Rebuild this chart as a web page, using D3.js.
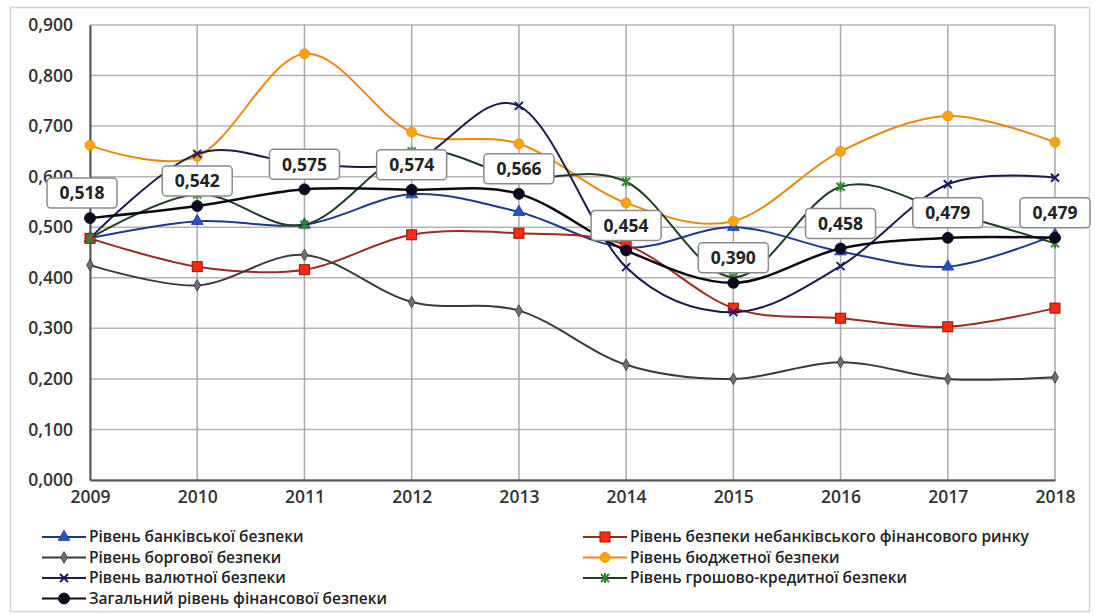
<!DOCTYPE html>
<html>
<head>
<meta charset="utf-8">
<script src="https://cdn.jsdelivr.net/npm/d3@7"></script>
<style>
  body { margin: 0; background: #fff; }
  text { font-family: "Open Sans", "Liberation Sans", sans-serif; }
</style>
</head>
<body>
<div id="app"></div>
<script>
// Data
const years = [2009, 2010, 2011, 2012, 2013, 2014, 2015, 2016, 2017, 2018];
const yTicks = [0, 0.1, 0.2, 0.3, 0.4, 0.5, 0.6, 0.7, 0.8, 0.9];

const banking    = [0.478, 0.512, 0.505, 0.565, 0.530, 0.460, 0.500, 0.452, 0.422, 0.485];
const nonBanking = [0.478, 0.422, 0.416, 0.485, 0.488, 0.465, 0.340, 0.320, 0.303, 0.340];
const debt       = [0.425, 0.385, 0.445, 0.352, 0.335, 0.228, 0.200, 0.233, 0.200, 0.203];
const budget     = [0.662, 0.640, 0.843, 0.688, 0.665, 0.548, 0.512, 0.650, 0.720, 0.668];
const currency   = [0.478, 0.645, 0.625, 0.630, 0.740, 0.421, 0.332, 0.423, 0.585, 0.598];
const monetary   = [0.478, 0.565, 0.505, 0.650, 0.600, 0.590, 0.401, 0.580, 0.530, 0.468];
const total      = [0.518, 0.542, 0.575, 0.574, 0.566, 0.454, 0.390, 0.458, 0.479, 0.479];

const series = [
  { name: "Рівень банківської безпеки", values: banking, line: "#1f3a8a", fill: "#2850c8", marker: "triangle" },
  { name: "Рівень безпеки небанківського фінансового ринку", values: nonBanking, line: "#9a2a22", fill: "#ff2a10", marker: "square" },
  { name: "Рівень боргової безпеки", values: debt, line: "#3a3a3a", fill: "#6e6e6e", marker: "diamond" },
  { name: "Рівень бюджетної безпеки", values: budget, line: "#e88a10", fill: "#ffa410", marker: "circle" },
  { name: "Рівень валютної безпеки", values: currency, line: "#1c1c4a", fill: "#1c1c6a", marker: "x" },
  { name: "Рівень грошово-кредитної безпеки", values: monetary, line: "#1f3d22", fill: "#2f8a2f", marker: "star" },
  { name: "Загальний рівень фінансової безпеки", values: total, line: "#0a0a14", fill: "#0a0a20", marker: "circle", big: true }
];

const width = 1095, height = 615;
const margin = { left: 90, right: 40, top: 25, bottom: 135 };

const svg = d3.select("#app").append("svg")
  .attr("width", width).attr("height", height);

// outer frame
svg.append("rect")
  .attr("x", 10.5).attr("y", 7.5)
  .attr("width", 1079).attr("height", 604)
  .attr("fill", "none").attr("stroke", "#d4d4d4").attr("stroke-width", 1.5);

const x = d3.scalePoint().domain(years).range([margin.left, width - margin.right]);
const y = d3.scaleLinear().domain([0, 0.9]).range([height - margin.bottom, margin.top]);

const fmt = v => d3.format(".3f")(v).replace(".", ",");

// grid
svg.append("g").selectAll("line").data(yTicks).join("line")
  .attr("x1", margin.left).attr("x2", width - margin.right)
  .attr("y1", d => y(d)).attr("y2", d => y(d))
  .attr("stroke", "#b4b4b4").attr("stroke-width", 1.5);
svg.append("g").selectAll("line").data(years).join("line")
  .attr("x1", d => x(d)).attr("x2", d => x(d))
  .attr("y1", y(0.9)).attr("y2", y(0))
  .attr("stroke", "#a8a8a8").attr("stroke-width", 1.5);

// axes
const yAxis = svg.append("g")
  .attr("transform", `translate(${margin.left},0)`)
  .call(d3.axisLeft(y).tickValues(yTicks).tickFormat(fmt).tickSize(0).tickPadding(17));
yAxis.select(".domain").attr("stroke", "#555").attr("stroke-width", 2);
yAxis.selectAll("text").attr("font-size", 17.5).attr("font-weight", 600).attr("fill", "#333")
  .style("font-family", "'Open Sans', sans-serif");

const xAxis = svg.append("g")
  .attr("transform", `translate(0,${y(0)})`)
  .call(d3.axisBottom(x).tickSize(0).tickPadding(11));
xAxis.select(".domain").attr("stroke", "#555").attr("stroke-width", 2);
xAxis.selectAll("text").attr("font-size", 17.5).attr("font-weight", 600).attr("fill", "#333")
  .style("font-family", "'Open Sans', sans-serif");

// marker drawing
function drawMarker(g, type, fill, stroke, big) {
  const s = big ? 1.15 : 1;
  if (type === "triangle") {
    g.append("path").attr("d", d3.symbol(d3.symbolTriangle, 60 * s)())
      .attr("fill", fill).attr("stroke", stroke).attr("stroke-width", 0.8);
  } else if (type === "square") {
    g.append("rect").attr("x", -5).attr("y", -5).attr("width", 10).attr("height", 10)
      .attr("fill", fill).attr("stroke", "#8a1a10").attr("stroke-width", 1);
  } else if (type === "diamond") {
    g.append("path").attr("d", d3.symbol(d3.symbolDiamond, 40)())
      .attr("fill", fill).attr("stroke", stroke).attr("stroke-width", 0.8);
  } else if (type === "circle") {
    g.append("circle").attr("r", big ? 5.5 : 5).attr("fill", fill).attr("stroke", stroke).attr("stroke-width", 0.8);
  } else if (type === "x") {
    g.append("path").attr("d", "M-4,-4L4,4M-4,4L4,-4")
      .attr("stroke", fill).attr("stroke-width", 2).attr("fill", "none");
  } else if (type === "star") {
    g.append("path").attr("d", "M-4,-4L4,4M-4,4L4,-4M0,-5L0,5")
      .attr("stroke", fill).attr("stroke-width", 2).attr("fill", "none");
  }
}

const line = d3.line()
  .x((d, i) => x(years[i]))
  .y(d => y(d))
  .curve(d3.curveCatmullRom.alpha(0));

series.forEach(s => {
  svg.append("path").datum(s.values)
    .attr("d", line)
    .attr("fill", "none")
    .attr("stroke", s.line)
    .attr("stroke-width", s.big ? 2.5 : 2);
  s.values.forEach((v, i) => {
    const g = svg.append("g").attr("transform", `translate(${x(years[i])},${y(v)})`);
    drawMarker(g, s.marker, s.fill, s.line, s.big);
  });
});

// data labels on total
const labels = svg.append("g");
total.forEach((v, i) => {
  const cx = x(years[i]) - (i === 0 ? 8 : 0);
  const cy = y(v) - 25;
  const g = labels.append("g").attr("transform", `translate(${cx},${cy})`);
  g.append("rect").attr("x", -35).attr("y", -15).attr("width", 70).attr("height", 30)
    .attr("rx", 4).attr("fill", "#fff").attr("stroke", "#8a8a8a").attr("stroke-width", 1.5);
  g.append("text").attr("text-anchor", "middle").attr("dy", "0.36em")
    .attr("font-size", 17.5).attr("font-weight", 700).attr("fill", "#222")
    .text(fmt(v));
});

// legend
const legend = svg.append("g");
series.forEach((s, i) => {
  const col = i % 2, row = Math.floor(i / 2);
  const lx = col === 0 ? 42 : 583;
  const ly = 537 + row * 20.5;
  const g = legend.append("g").attr("transform", `translate(${lx},${ly})`);
  g.append("line").attr("x1", 0).attr("x2", 44).attr("y1", 0).attr("y2", 0)
    .attr("stroke", s.line).attr("stroke-width", 2);
  const m = g.append("g").attr("transform", "translate(22,0)");
  drawMarker(m, s.marker, s.fill, s.line, s.big);
  g.append("text").attr("x", 47).attr("dy", "0.35em")
    .attr("font-size", 15.5).attr("font-weight", 600).attr("fill", "#222")
    .text(s.name);
});
</script>
</body>
</html>
